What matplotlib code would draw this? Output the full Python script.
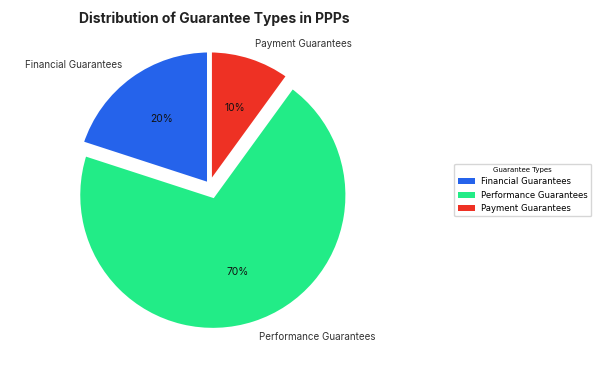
import matplotlib.pyplot as plt
from matplotlib.patches import Patch

labels = ['Financial Guarantees', 'Performance Guarantees', 'Payment Guarantees']
shares = [20, 70, 10]
colors = ['#2563EB', '#22EC87', '#EE3124']
explode = [0, 0.08, 0]

plt.rcParams['font.family'] = ['Inter', 'DejaVu Sans']

fig = plt.figure(figsize=(6.02, 3.74), dpi=100)
ax = fig.add_axes([0.0677, 0.0541, 0.5606, 0.9024])

wedges, texts, autotexts = ax.pie(
    shares, labels=labels, colors=colors, explode=explode,
    autopct='%1.0f%%', startangle=90,
    wedgeprops={'edgecolor': 'white', 'linewidth': 3.5},
    textprops={'fontsize': 7.1, 'color': '#333333'})
for t in autotexts:
    t.set_color('#111111')
    t.set_fontsize(7.4)

fig.text(214 / 602, 1 - 19 / 374, 'Distribution of Guarantee Types in PPPs',
         ha='center', va='center', fontsize=10, fontweight='bold', color='#222222')

handles = [Patch(facecolor=c) for c in colors]
leg = fig.legend(handles, labels, title='Guarantee Types', loc='center left',
                 bbox_to_anchor=(450 / 602, 0.492),
                 prop={'family': 'DejaVu Sans', 'size': 6.1})
leg.get_title().set_fontsize(5)
leg.get_title().set_family('DejaVu Sans')

fig.savefig('out.png', dpi=100)
